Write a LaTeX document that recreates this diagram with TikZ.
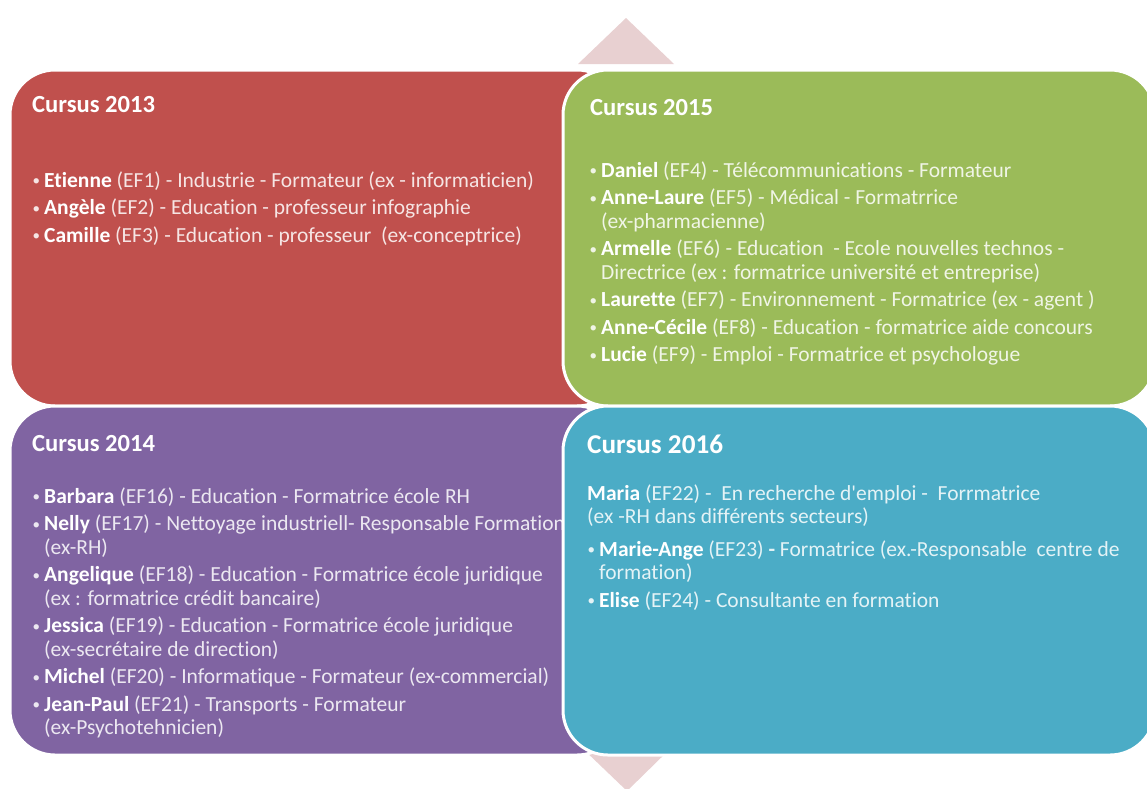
\documentclass[tikz,border=0pt]{standalone}
\usepackage{fontspec}
\setmainfont{Carlito}[Ligatures=NoCommon]
\usepackage{xcolor}
\usetikzlibrary{positioning}
\definecolor{c2013}{RGB}{192,80,77}
\definecolor{c2015}{RGB}{155,187,89}
\definecolor{c2014}{RGB}{128,100,162}
\definecolor{c2016}{RGB}{75,172,198}
\definecolor{pale}{RGB}{232,208,209}
\newcommand{\nm}[1]{\textcolor{white}{\textbf{#1}}}
\newcommand{\bul}{\makebox[12pt][l]{\hspace{0.5pt}\raisebox{1.5pt}{\fontsize{15}{15}\selectfont\textbullet}}}

\begin{document}
\begin{tikzpicture}[
    x=1pt, y=-1pt,
    quad/.style={rectangle, rounded corners=45pt, draw=white, line width=3pt, outer sep=0pt, anchor=north west},
    head/.style={anchor=base west, inner sep=0pt, text=white, font=\fontsize{24.6}{28}\selectfont\bfseries},
    body/.style={anchor=base west, inner sep=0pt, font=\fontsize{21.5}{23.5}\selectfont}
]
\useasboundingbox (0,0) rectangle (1147,788);

% arrows behind the matrix
\fill[pale] (626,18) -- (674,64) -- (578,64) -- cycle;
\fill[pale] (579,745) -- (674,745) -- (627,791) -- cycle;

% 2013
\node[quad, fill=c2013, minimum width=612pt, minimum height=336pt] (b2013) at (10,70) {};
\node[head] (h2013) at (32,112) {Cursus 2013};
\node[body, text=white!85!c2013] (t2013) at (32,187) {\begin{tabular}[t]{@{}l@{}l@{}}
\bul & \nm{Etienne} (EF1) - Industrie - Formateur (ex - informaticien)\\[4pt]
\bul & \nm{Angèle} (EF2) - Education - professeur infographie\\[4pt]
\bul & \nm{Camille} (EF3) - Education - professeur\ \ (ex-conceptrice)
\end{tabular}};

% 2015
\node[quad, fill=c2015, minimum width=592pt, minimum height=336pt] (b2015) at (563,70) {};
\node[head] (h2015) at (590,115) {Cursus 2015};
\node[body, text=white!85!c2015] (t2015) at (589,177) {\begin{tabular}[t]{@{}l@{}l@{}}
\bul & \nm{Daniel} (EF4) - Télécommunications - Formateur\\[4pt]
\bul & \nm{Anne-Laure} (EF5) - Médical - Formatrrice\\
     & (ex-pharmacienne)\\[4pt]
\bul & \nm{Armelle} (EF6) - Education\ \ - Ecole nouvelles technos -\\
     & Directrice (ex : formatrice université et entreprise)\\[4pt]
\bul & \nm{Laurette} (EF7) - Environnement - Formatrice (ex - agent )\\[4pt]
\bul & \nm{Anne-Cécile} (EF8) - Education - formatrice aide concours\\[4pt]
\bul & \nm{Lucie} (EF9) - Emploi - Formatrice et psychologue
\end{tabular}};

% 2014
\node[quad, fill=c2014, minimum width=612pt, minimum height=349pt] (b2014) at (10,406) {};
\node[head] (h2014) at (32,451) {Cursus 2014};
\node[body, text=white!85!c2014] (t2014) at (32,503) {\begin{tabular}[t]{@{}l@{}l@{}}
\bul & \nm{Barbara} (EF16) - Education - Formatrice école RH\\[4pt]
\bul & \nm{Nelly} (EF17) - Nettoyage industriell- Responsable Formation\\
     & (ex-RH)\\[4pt]
\bul & \nm{Angelique} (EF18) - Education - Formatrice école juridique\\
     & (ex : formatrice crédit bancaire)\\[4pt]
\bul & \nm{Jessica} (EF19) - Education - Formatrice école juridique\\
     & (ex-secrétaire de direction)\\[4pt]
\bul & \nm{Michel} (EF20) - Informatique - Formateur (ex-commercial)\\[4pt]
\bul & \nm{Jean-Paul} (EF21) - Transports - Formateur\\
     & (ex-Psychotehnicien)
\end{tabular}};

% 2016
\node[quad, fill=c2016, minimum width=592pt, minimum height=349pt] (b2016) at (563,406) {};
\node[head, font=\fontsize{27.2}{30}\selectfont\bfseries] (h2016) at (587,453) {Cursus 2016};
\node[body, text=white!85!c2016] (t2016) at (587,500) {\begin{tabular}[t]{@{}l@{}l@{}}
\multicolumn{2}{@{}l@{}}{\nm{Maria} (EF22) -\ \ En recherche d\textquotesingle emploi -\ \ Forrmatrice}\\
\multicolumn{2}{@{}l@{}}{(ex -RH dans différents secteurs)}\\[9pt]
\bul & \nm{Marie-Ange} (EF23) \textbf{-} Formatrice (ex.-Responsable\ \ centre de\\
     & formation)\\[4pt]
\bul & \nm{Elise} (EF24) - Consultante en formation
\end{tabular}};

\end{tikzpicture}
\end{document}
